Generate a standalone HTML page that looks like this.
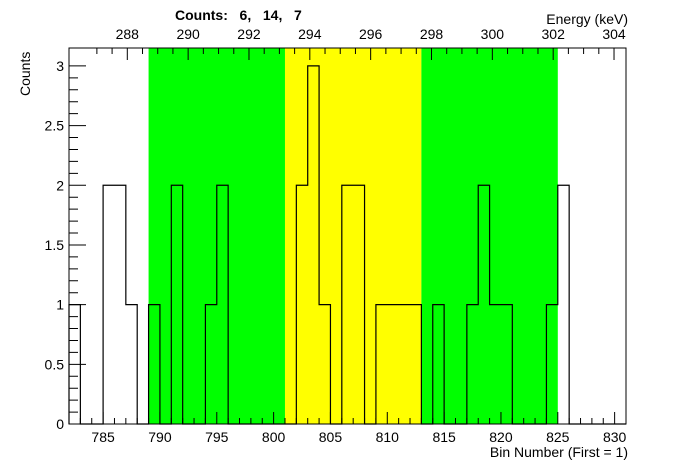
<!DOCTYPE html>
<html><head><meta charset="utf-8"><style>
body{margin:0;background:#fff;}
svg{display:block;font-family:"Liberation Sans",sans-serif;}
</style></head><body>
<svg id="c" width="696" height="472">
<text x="175" y="20" font-size="14" font-weight="bold" xml:space="preserve">Counts:   6,   14,   7</text>
<text x="628" y="24" font-size="14" text-anchor="end">Energy (keV)</text>
<text x="628" y="457" font-size="14" text-anchor="end">Bin Number (First = 1)</text>
<text transform="translate(30,96) rotate(-90)" font-size="14">Counts</text>
</svg>
<script>
const binStart=782;
const counts=[1,0,0,2,2,1,0,1,0,2,0,0,1,2,0,0,0,0,0,0,2,3,1,0,2,2,0,1,1,1,1,0,1,0,0,1,2,1,1,0,0,0,1,2,0,0,0,0,0];
const regions=[[789,801,'#00ff00'],[801,813,'#ffff00'],[813,825,'#00ff00']];
const xTicks=[785,790,795,800,805,810,815,820,825,830];
const yTicks=[0,0.5,1,1.5,2,2.5,3];
const eTicks=[288,290,292,294,296,298,300,302,304];
const L=69,R=626,T=48,B=424,xMin=782,xMax=831,yMax=3.15;
const X=v=>L+(v-xMin)/(xMax-xMin)*(R-L);
const Y=v=>B-v/yMax*(B-T);
const E=e=>127.3+(e-288)*30.42;
const s=document.getElementById('c');const NS='http://www.w3.org/2000/svg';
function mk(t,a){const e=document.createElementNS(NS,t);for(const k in a)e.setAttribute(k,a[k]);s.appendChild(e);return e;}
regions.forEach(r=>{const e=mk('rect',{x:X(r[0]),y:T,width:X(r[1])-X(r[0]),height:B-T,fill:r[2]});

});
let d='M'+X(binStart)+','+Y(0);
counts.forEach((c,i)=>{d+=' L'+X(binStart+i)+','+Y(c)+' L'+X(binStart+i+1)+','+Y(c);});
const h=mk('path',{d:d,fill:'none',stroke:'#000','stroke-width':1.2});


const f=mk('rect',{x:L,y:T,width:R-L,height:B-T,fill:'none',stroke:'#000'});


let tk='';
for(let v=783;v<=830;v++){const maj=v%5==0;tk+='M'+X(v)+','+B+'v'+(maj?-12:-6);}
for(let v=0;v<=3.1;v+=0.1){const maj=Math.abs(v*2-Math.round(v*2))<1e-6;tk+='M'+L+','+Y(v)+'h'+(maj?17:9);}
for(let e=287;e<=304.01;e+=0.5){const maj=Math.abs(e%2)<1e-6;tk+='M'+E(e)+','+T+'v'+(maj?12:6);}
const t=mk('path',{d:tk,stroke:'#000',fill:'none'});


xTicks.forEach(v=>{const e=mk('text',{x:X(v),y:442,'font-size':14,'text-anchor':'middle'});e.textContent=v;

});
yTicks.forEach(v=>{const e=mk('text',{x:64,y:Y(v)+5,'font-size':14,'text-anchor':'end'});e.textContent=v;

});
eTicks.forEach(v=>{const e=mk('text',{x:E(v),y:39,'font-size':14,'text-anchor':'middle'});e.textContent=v;

});
</script>
</body></html>
